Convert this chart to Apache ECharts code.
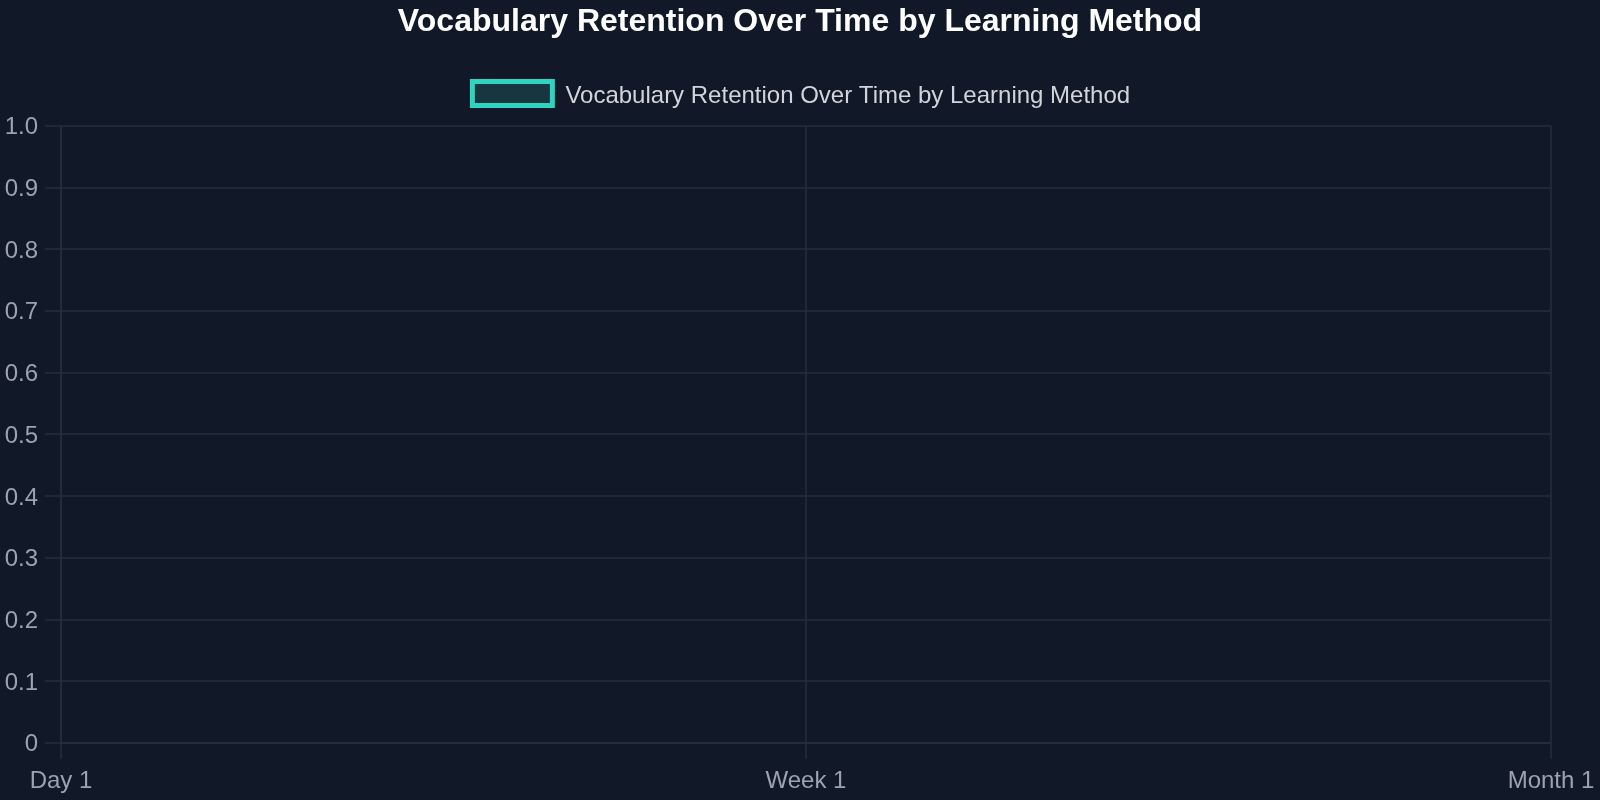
<!DOCTYPE html>
<html>
<head>
<meta charset="utf-8">
<style>
  html, body { margin: 0; padding: 0; background: #111827; }
  #chart { width: 1600px; height: 800px; }
</style>
<script src="https://cdn.jsdelivr.net/npm/echarts@6/dist/echarts.min.js"></script>
</head>
<body>
<div id="chart"></div>
<script>
const titleText = 'Vocabulary Retention Over Time by Learning Method';
const categories = ['Day 1', 'Week 1', 'Month 1'];
const seriesName = 'Vocabulary Retention Over Time by Learning Method';
const retentionValues = [null, null, null];
const yMin = 0;
const yMax = 1;
const yInterval = 0.1;

const gridColor = '#252e3d';
const tickColor = '#9ca3af';
const font = 'Liberation Sans, Arial, Helvetica, sans-serif';

const chart = echarts.init(document.getElementById('chart'), null, { renderer: 'canvas' });
chart.setOption({
  backgroundColor: '#111827',
  animation: false,
  title: {
    text: titleText,
    left: 'center',
    top: 1,
    textStyle: { color: '#ffffff', fontSize: 32, fontWeight: 'bold', fontFamily: font }
  },
  legend: {
    data: [seriesName],
    left: 'center',
    top: 79,
    padding: 0,
    icon: 'rect',
    itemWidth: 80,
    itemHeight: 24,
    itemStyle: { color: '#18363f', borderColor: '#2dd4bf', borderWidth: 5 },
    formatter: '{t|{name}}',
    textStyle: {
      color: '#d1d5db', fontSize: 24, fontFamily: font,
      rich: { t: { color: '#d1d5db', fontSize: 24, fontFamily: font, padding: [5, 0, 0, 8] } }
    }
  },
  grid: { left: 61, right: 49, top: 125.7, bottom: 57.3, containLabel: false },
  xAxis: {
    type: 'category',
    data: categories,
    boundaryGap: false,
    axisLine: { show: true, lineStyle: { color: gridColor, width: 1.5 } },
    axisTick: { show: true, length: 16, lineStyle: { color: gridColor, width: 1.5 } },
    splitLine: { show: true, lineStyle: { color: gridColor, width: 1.5 } },
    axisLabel: { color: tickColor, fontSize: 24, fontFamily: font, margin: 27 }
  },
  yAxis: {
    type: 'value',
    min: yMin,
    max: yMax,
    interval: yInterval,
    axisLine: { show: true, lineStyle: { color: gridColor, width: 1.5 } },
    axisTick: { show: true, length: 16, lineStyle: { color: gridColor, width: 1.5 } },
    splitLine: { show: true, lineStyle: { color: gridColor, width: 1.5 } },
    axisLabel: {
      color: tickColor, fontSize: 24, fontFamily: font, margin: 23,
      verticalAlign: 'top', lineHeight: 4,
      formatter: v => (v === 0 ? '0' : v.toFixed(1))
    }
  },
  series: [{
    name: seriesName,
    type: 'bar',
    data: retentionValues,
    itemStyle: { color: '#18363f', borderColor: '#2dd4bf', borderWidth: 5 }
  }]
});
</script>
</body>
</html>
